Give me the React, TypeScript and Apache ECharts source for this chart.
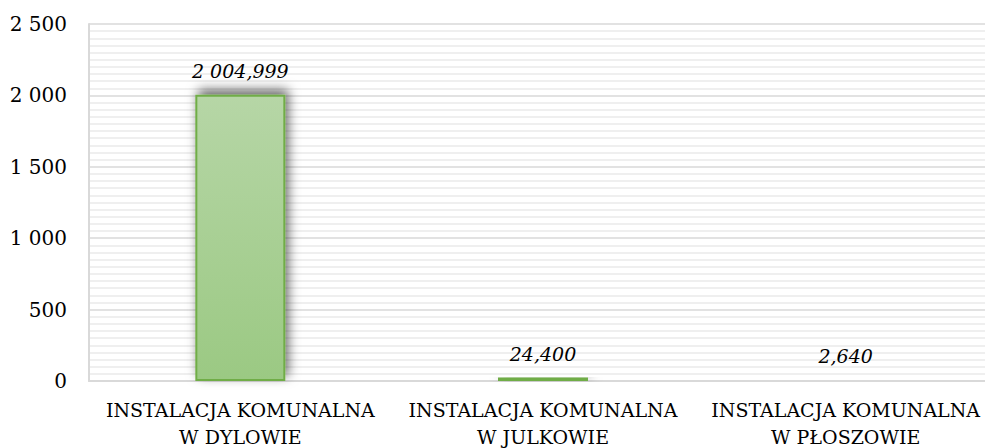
import React, { useEffect, useRef } from "react";
import * as echarts from "echarts";

const categories = ["INSTALACJA KOMUNALNA\nW DYLOWIE", "INSTALACJA KOMUNALNA\nW JULKOWIE", "INSTALACJA KOMUNALNA\nW PŁOSZOWIE"];
const values = [2004.999, 24.4, 2.64];
const valueLabels = ["2 004,999", "24,400", "2,640"];

const FONT = "DejaVu Serif";

function fmtAxis(v: number): string {
  const s = String(Math.round(v));
  return s.length > 3 ? s.slice(0, s.length - 3) + " " + s.slice(-3) : s;
}

export default function App() {
  const ref = useRef<HTMLDivElement>(null);
  useEffect(() => {
    if (!ref.current) return;
    const chart = echarts.init(ref.current, undefined, { renderer: "svg" });
    chart.setOption({
      animation: false,
      backgroundColor: "#ffffff",
      grid: { left: 89, width: 908, top: 24, height: 357, containLabel: false, outerBoundsMode: "none" },
      xAxis: {
        type: "category",
        data: categories,
        axisLine: { show: true, lineStyle: { color: "#d9d9d9", width: 2 } },
        axisTick: { show: false },
        axisLabel: {
          color: "#000",
          fontFamily: FONT,
          fontSize: 19,
          lineHeight: 27,
          margin: 15,
          interval: 0,
        },
      },
      yAxis: {
        type: "value",
        min: 0,
        max: 2500,
        interval: 500,
        axisLine: { show: true, lineStyle: { color: "#d9d9d9", width: 2 } },
        axisTick: { show: false },
        axisLabel: {
          color: "#000",
          fontFamily: FONT,
          fontSize: 20,
          margin: 22,
          formatter: (v: number) => fmtAxis(v),
        },
        splitLine: { show: true, lineStyle: { color: "#d9d9d9", width: 1.5 } },
        minorTick: { show: false, splitNumber: 10 },
        minorSplitLine: { show: true, lineStyle: { color: "#efefef", width: 2 } },
      },
      series: [
        {
          type: "bar",
          data: values,
          barWidth: 90,
          itemStyle: {
            color: new echarts.graphic.LinearGradient(0, 0, 0, 1, [
              { offset: 0, color: "#b6d6a6" },
              { offset: 1, color: "#9bc983" },
            ]),
            borderColor: "#70ad47",
            borderWidth: 2,
            shadowColor: "rgba(0,0,0,0.6)",
            shadowBlur: 12,
            shadowOffsetX: 3,
            shadowOffsetY: -5,
          },
          label: {
            show: true,
            position: "top",
            distance: 14,
            color: "#000",
            fontFamily: FONT,
            fontStyle: "italic",
            fontSize: 19,
            formatter: (p: any) => valueLabels[p.dataIndex],
          },
        },
      ],
    });
    return () => chart.dispose();
  }, []);
  return <div ref={ref} style={{ width: 985, height: 448, position: "absolute", left: 0, top: 0 }} />;
}
